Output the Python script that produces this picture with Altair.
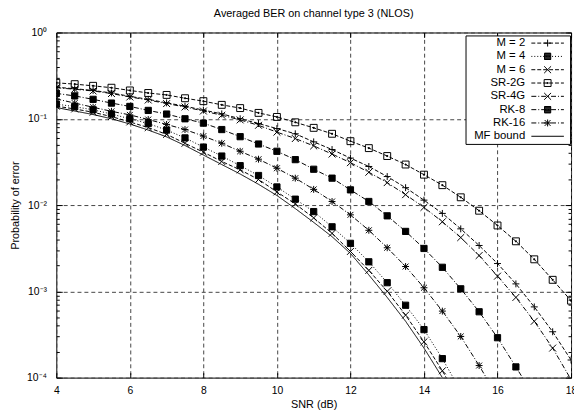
import altair as alt
import pandas as pd

# ---------------- data ----------------
SNR = [4.0, 4.5, 5.0, 5.5, 6.0, 6.5, 7.0, 7.5, 8.0, 8.5, 9.0, 9.5, 10.0, 10.5,
       11.0, 11.5, 12.0, 12.5, 13.0, 13.5, 14.0, 14.5, 15.0, 15.5, 16.0, 16.5,
       17.0, 17.5, 18.0]

SERIES = ["M = 2", "M = 4", "M = 6", "SR-2G", "SR-4G", "RK-8", "RK-16", "MF bound"]

m2 = [0.232, 0.223, 0.213, 0.199, 0.182, 0.168, 0.153, 0.140, 0.126, 0.114,
      0.100, 0.088, 0.077, 0.067, 0.054, 0.044, 0.035, 0.028, 0.0214, 0.0159,
      0.0114, 0.0080, 0.0053, 0.0034, 0.0021, 0.00122, 0.00066, 0.00034, 0.00016]
m4 = [0.148, 0.138, 0.127, 0.1135, 0.100, 0.088, 0.074, 0.060, 0.047, 0.037,
      0.0286, 0.022, 0.0162, 0.0117, 0.0084, 0.0056, 0.0036, 0.0022, 0.00126,
      0.00069, 0.00036, 0.000166, 0.00007]
m6 = [0.140, 0.130, 0.119, 0.106, 0.092, 0.079, 0.066, 0.052, 0.041, 0.032,
      0.0256, 0.0198, 0.0142, 0.0103, 0.0071, 0.0047, 0.0029, 0.00175, 0.00100,
      0.00053, 0.00026, 0.00012, 0.00005]
sr2g = [0.261, 0.252, 0.241, 0.229, 0.213, 0.199, 0.189, 0.173, 0.160, 0.145,
        0.133, 0.117, 0.105, 0.091, 0.0785, 0.067, 0.055, 0.0457, 0.037, 0.0295,
        0.0225, 0.017, 0.0123, 0.0086, 0.0058, 0.0038, 0.00235, 0.00136, 0.00078]
sr4g = [0.229, 0.220, 0.210, 0.196, 0.179, 0.165, 0.150, 0.137, 0.123, 0.110,
        0.097, 0.084, 0.070, 0.059, 0.0485, 0.039, 0.031, 0.024, 0.0182, 0.0132,
        0.0094, 0.0064, 0.0042, 0.0026, 0.0015, 0.00085, 0.00045, 0.00022, 0.000095]
rk8 = [0.197, 0.184, 0.168, 0.152, 0.139, 0.125, 0.1135, 0.100, 0.089, 0.075,
       0.062, 0.051, 0.042, 0.0336, 0.026, 0.0205, 0.015, 0.011, 0.0075, 0.00495,
       0.00314, 0.0019, 0.00107, 0.00058, 0.00029, 0.000133, 0.00006]
rk16 = [0.170, 0.152, 0.136, 0.122, 0.111, 0.098, 0.086, 0.075, 0.063, 0.052,
        0.042, 0.034, 0.0267, 0.0205, 0.0152, 0.011, 0.0077, 0.0051, 0.0032,
        0.00194, 0.0011, 0.00059, 0.0003, 0.000138, 0.00006]
mf = [0.135, 0.123, 0.112, 0.100, 0.087, 0.074, 0.0617, 0.049, 0.038, 0.0295,
      0.0229, 0.0174, 0.0129, 0.0091, 0.0063, 0.0043, 0.00275, 0.00155, 0.00085,
      0.00045, 0.00022, 0.0001, 0.00004]

X_TICKS = [4, 6, 8, 10, 12, 14, 16, 18]
Y_MAJOR = [1e-4, 1e-3, 1e-2, 1e-1, 1.0]
Y_LABELS = ["10⁻⁴", "10⁻³", "10⁻²", "10⁻¹", "10⁰"]
Y_MINOR = [k * 10.0 ** e for e in range(-4, 0) for k in range(2, 10)]

TITLE = "Averaged BER on channel type 3 (NLOS)"
X_TITLE = "SNR (dB)"
Y_TITLE = "Probability of error"

values = {"M = 2": m2, "M = 4": m4, "M = 6": m6, "SR-2G": sr2g, "SR-4G": sr4g,
          "RK-8": rk8, "RK-16": rk16, "MF bound": mf}
rows = []
for name in SERIES:
    for s, v in zip(SNR, values[name]):
        rows.append({"series": name, "snr": s, "ber": v})
df = pd.DataFrame(rows)

# ---------------- styles ----------------
FONT = "Liberation Sans"
W, H = 522, 350
DASHED = [4, 2]
DOTTED = [1, 2]
DASHDOT = [5, 2, 1, 2]
SOLID = [1, 0]
dash_of = {"M = 2": DASHED, "M = 4": DOTTED, "M = 6": DASHED, "SR-2G": DASHED,
           "SR-4G": DASHDOT, "RK-8": DASHDOT, "RK-16": DASHDOT, "MF bound": SOLID}


def f(v):
    return ("%.3f" % v).rstrip("0").rstrip(".")


def marker(kind, m, cx=0.0, hatch=False):
    def P(x, y):
        return f"{f(cx + x)},{f(y)}"
    if kind == "plus":
        return f"M{P(-m, 0)}L{P(m, 0)}M{P(0, -m)}L{P(0, m)}"
    if kind == "x":
        return f"M{P(-m, -m)}L{P(m, m)}M{P(-m, m)}L{P(m, -m)}"
    if kind == "star":
        return marker("plus", m, cx) + marker("x", m * 0.85, cx)
    if kind == "fsquare":
        a = m * 0.9
        s = f"M{P(-a, -a)}L{P(a, -a)}L{P(a, a)}L{P(-a, a)}Z"
        if hatch:
            n = 8
            for k in range(n + 1):
                y = -a + 2 * a * k / n
                s += f"M{P(-a, y)}L{P(a, y)}"
        return s
    if kind == "boxdot":
        d = m * 0.15
        return (f"M{P(-m, -m)}L{P(m, -m)}M{P(m, -m)}L{P(m, m)}"
                f"M{P(m, m)}L{P(-m, m)}M{P(-m, m)}L{P(-m, -m)}"
                f"M{P(-d, -d)}L{P(d, -d)}L{P(d, d)}L{P(-d, d)}Z")
    return ""


marker_of = {"M = 2": "plus", "M = 4": "fsquare", "M = 6": "x", "SR-2G": "boxdot",
             "SR-4G": "x", "RK-8": "fsquare", "RK-16": "star", "MF bound": None}

PT_SERIES = [s for s in SERIES if marker_of[s]]
pt_paths = [marker(marker_of[s], 1.0) for s in PT_SERIES]

# legend symbols: line sample + marker drawn in one path (unit = 3.5 px),
# drawn to the right of the (right-aligned) label
UNIT = 3.5
LEG_W = 33.0
COL = 8.0            # symbol column width computed by Vega: ceil(2*UNIT + 1)
LABEL_R = 55.0       # right edge of labels inside the legend
GAP = 8.0
X0 = (LABEL_R + GAP - COL / 2) / UNIT
X1 = X0 + LEG_W / UNIT
XC = (X0 + X1) / 2
XEND = X1 + 2.0 / UNIT


def dash_segments(pattern):
    if pattern == SOLID:
        return f"M{f(X0)},0L{f(X1)},0"
    out = []
    x = 0.0
    i = 0
    while x < LEG_W:
        on = pattern[i % len(pattern)]
        if i % 2 == 0:
            x2 = min(x + on, LEG_W)
            out.append(f"M{f(X0 + x / UNIT)},0L{f(X0 + x2 / UNIT)},0")
        x += on
        i += 1
    return "".join(out)


leg_paths = []
for s in SERIES:
    p = dash_segments(dash_of[s])
    if marker_of[s]:
        p += marker(marker_of[s], 1.0, XC, hatch=True)
    p += f"M{f(XEND)},0"
    leg_paths.append(p)

xscale = alt.Scale(domain=[4, 18], nice=False, zero=False)
yscale = alt.Scale(type="log", domain=[1e-4, 1], nice=False)

GRID = dict(grid=True, gridDash=[4, 3], gridColor="#444", gridWidth=1, gridOpacity=1)
NOLAB = dict(labels=False, domain=False, grid=False, title=None, ticks=True,
             tickColor="black", tickWidth=1)

label_expr = "[" + ",".join("'%s'" % t for t in Y_LABELS) + "][round(log(datum.value)/LN10)+4]"

x_main = alt.Axis(values=X_TICKS, ticks=False, tickSize=0, domain=False,
                  labelFont=FONT, labelFontSize=10.5, labelColor="black",
                  labelPadding=8, labelFlush=False, labelOverlap=False,
                  title=X_TITLE, titleFont=FONT, titleFontSize=11,
                  titleFontWeight="normal", titleColor="black", titlePadding=3, **GRID)
y_main = alt.Axis(values=Y_MAJOR, labelExpr=label_expr, ticks=False, tickSize=0,
                  domain=False, labelFont=FONT, labelFontSize=10.5, labelColor="black",
                  labelPadding=10, labelFlush=False, labelOverlap=False,
                  title=Y_TITLE, titleFont=FONT, titleFontSize=11,
                  titleFontWeight="normal", titleColor="black", titlePadding=6, **GRID)

lines = alt.Chart(df).mark_line(clip=True, color="black", strokeWidth=1).encode(
    x=alt.X("snr:Q", scale=xscale, axis=x_main),
    y=alt.Y("ber:Q", scale=yscale, axis=y_main),
    strokeDash=alt.StrokeDash("series:N", scale=alt.Scale(domain=SERIES, range=[dash_of[s] for s in SERIES]), legend=None),
)

points = alt.Chart(df).transform_filter("datum.series != 'MF bound'").mark_point(
    clip=True, filled=True, fill="black", stroke="black", strokeWidth=1, size=49, opacity=1
).encode(
    x=alt.X("snr:Q", scale=xscale, axis=alt.Axis(orient="top", offset=-H, values=X_TICKS, tickSize=5, **NOLAB)),
    y=alt.Y("ber:Q", scale=yscale, axis=alt.Axis(orient="right", offset=-W, values=Y_MAJOR, tickSize=6, **NOLAB)),
    shape=alt.Shape("series:N", scale=alt.Scale(domain=PT_SERIES, range=pt_paths), legend=None),
)

ticks2 = alt.Chart(df).transform_filter("false").mark_point(opacity=0).encode(
    x=alt.X("snr:Q", scale=xscale, axis=alt.Axis(orient="bottom", offset=-H, values=X_TICKS, tickSize=5, **NOLAB)),
    y=alt.Y("ber:Q", scale=yscale, axis=alt.Axis(orient="left", offset=-W, values=Y_MAJOR, tickSize=6, **NOLAB)),
)
ticks3 = alt.Chart(df).transform_filter("false").mark_point(opacity=0).encode(
    x=alt.X("snr:Q", scale=xscale, axis=None),
    y=alt.Y("ber:Q", scale=yscale, axis=alt.Axis(orient="right", offset=-W, values=Y_MINOR, tickSize=3, **NOLAB)),
)
ticks4 = alt.Chart(df).transform_filter("false").mark_point(opacity=0).encode(
    x=alt.X("snr:Q", scale=xscale, axis=None),
    y=alt.Y("ber:Q", scale=yscale, axis=alt.Axis(orient="left", offset=-W, values=Y_MINOR, tickSize=3, **NOLAB)),
)

SYM_SIZE = (2 * UNIT) ** 2
legend = alt.Chart(df).transform_filter("false").mark_point(
    filled=False, stroke="black", strokeWidth=1, opacity=1, size=SYM_SIZE
).encode(
    x=alt.X("snr:Q", scale=xscale, axis=None),
    y=alt.Y("ber:Q", scale=yscale, axis=None),
    shape=alt.Shape("series:N", scale=alt.Scale(domain=SERIES, range=leg_paths),
                    legend=alt.Legend(title=None, orient="none", legendX=415, legendY=3,
                                      padding=2, strokeColor="black", fillColor="white",
                                      labelFont=FONT, labelFontSize=11.5, labelColor="black",
                                      labelAlign="right", labelOffset=LABEL_R - COL, symbolOffset=0,
                                      symbolSize=SYM_SIZE, symbolStrokeWidth=1,
                                      symbolStrokeColor="black", symbolFillColor="black",
                                      symbolOpacity=1, rowPadding=0.5, labelLimit=0)),
)

chart = alt.layer(lines, points, ticks2, ticks3, ticks4, legend).resolve_scale(
    x="independent", y="independent", shape="independent", strokeDash="independent"
).properties(
    width=W, height=H,
    autosize=alt.AutoSizeParams(type="none"),
    padding={"left": 49, "top": 22, "right": 3, "bottom": 30},
    title=alt.TitleParams(TITLE, font=FONT, fontSize=11, fontWeight="normal",
                          color="black", anchor="middle", frame="group", offset=8.5),
).configure_view(stroke="black", strokeWidth=1)

chart.save("out.html", embed_options={"renderer": "svg", "actions": False})
